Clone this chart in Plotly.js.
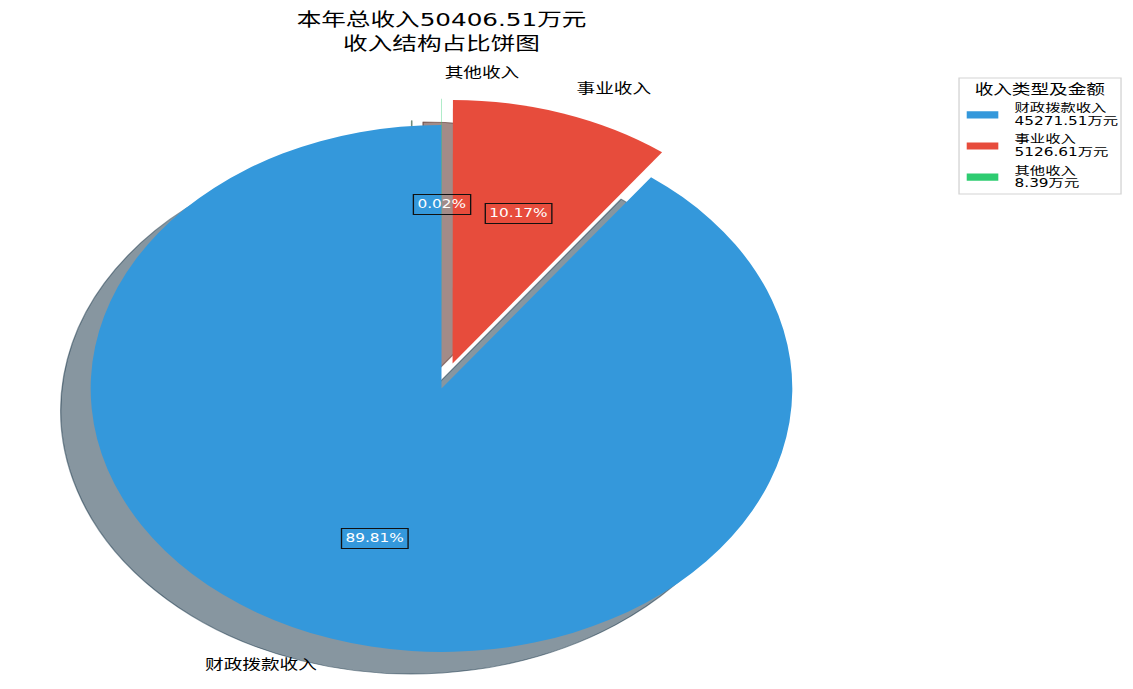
<!DOCTYPE html>
<html>
<head>
<meta charset="utf-8">
<script src="https://cdn.plot.ly/plotly-3.0.1.min.js"></script>
<style>
  html, body { margin: 0; padding: 0; overflow: hidden; background: #fff; }
  #wrap { width: 1133px; height: 689px; overflow: hidden; }
  /* the chart is laid out narrower and stretched sideways, giving the oval pie */
  #chart { width: 851px; height: 740px; transform: scaleX(1.3314); transform-origin: 0 0; }
</style>
</head>
<body>
<div id="wrap"><div id="chart"></div></div>
<script>
// income categories and amounts (万元)
const categories = ['财政拨款收入', '事业收入', '其他收入'];
const amounts = [45271.51, 5126.61, 8.39];
const explode = [0, 0.1, 0.1];
const sliceColors = ['#3498db', '#e74c3c', '#2ecc71'];
const legendTitle = '收入类型及金额';
const unit = '万元';
const titleMain = '本年总收入';
const titleSub = '收入结构占比饼图';

// ---- layout geometry (pixels of the displayed page) ----
const SX = 1.3314;          // horizontal stretch
const W0 = 851, H0 = 740;   // plotly canvas size before stretching
const FULLW = 1133;
const CX = 441.5 / SX;      // pie centre, canvas px
const CY = 388.5;
const R = 263.5;            // pie radius, canvas px
const SHADOW_DX = -22.5, SHADOW_DY = 22;
const FONT = "'DejaVu Sans', 'Noto Sans CJK SC', sans-serif";

const total = amounts.reduce((a, b) => a + b, 0);
const maxPull = Math.max(...explode);
// first slice starts at 12 o'clock and runs counterclockwise
const startRotation = 360 - amounts[0] / total * 360;

function pieDomain(cx, cy) {
  const half = R * (1 + maxPull);
  return {
    x: [(cx - half) / W0, (cx + half) / W0],
    y: [1 - (cy + half) / H0, 1 - (cy - half) / H0]
  };
}
function shadowOf(hex) {
  const n = parseInt(hex.slice(1), 16);
  const r = (n >> 16) & 255, g = (n >> 8) & 255, b = n & 255;
  return `rgba(${(0.3 * r).toFixed(1)},${(0.3 * g).toFixed(1)},${(0.3 * b).toFixed(1)},0.5)`;
}
const shadowColors = sliceColors.map(shadowOf);

const shadowPie = {
  type: 'pie', labels: categories, values: amounts, sort: false,
  direction: 'counterclockwise', rotation: startRotation, pull: explode,
  marker: { colors: shadowColors, line: { color: shadowColors, width: 1 } },
  textinfo: 'none', hoverinfo: 'skip', showlegend: false,
  domain: pieDomain(CX + SHADOW_DX, CY + SHADOW_DY)
};
const mainPie = {
  type: 'pie', labels: categories, values: amounts, sort: false,
  direction: 'counterclockwise', rotation: startRotation, pull: explode,
  marker: { colors: sliceColors, line: { width: 0 } },
  textinfo: 'none', hoverinfo: 'skip', showlegend: false,
  domain: pieDomain(CX, CY)
};

// slice label positions follow the slice mid-angles
const annotations = [];
let cum = 0;
amounts.forEach((v, i) => {
  const frac = v / total;
  const mid = (90 + (cum + frac / 2) * 360) * Math.PI / 180;
  cum += frac;
  const c = Math.cos(mid), s = Math.sin(mid);
  const pctD = 0.6 + explode[i];
  const lblD = 1.1 + explode[i];
  annotations.push({
    xref: 'paper', yref: 'paper', showarrow: false,
    x: (CX + pctD * R * c) / W0, y: 1 - (CY - pctD * R * s) / H0,
    xanchor: 'center', yanchor: 'middle',
    text: (frac * 100).toFixed(2) + '%',
    font: { family: FONT, size: 11.5, color: '#ffffff' },
    bgcolor: 'rgba(0,0,0,0)', bordercolor: '#111111', borderwidth: 1, borderpad: 2.5
  });
  annotations.push({
    xref: 'paper', yref: 'paper', showarrow: false,
    x: (CX + lblD * R * c) / W0, y: 1 - (CY - lblD * R * s) / H0,
    xanchor: c >= 0 ? 'left' : 'right', yanchor: 'middle',
    text: categories[i],
    font: { family: FONT, size: 14, color: '#000000' }
  });
});

// legend box drawn by hand
const fx = px => px / FULLW;       // displayed x -> paper
const fy = py => 1 - py / H0;      // displayed y -> paper
const shapes = [{
  type: 'rect', xref: 'paper', yref: 'paper',
  x0: fx(959), x1: fx(1121), y0: fy(194), y1: fy(78),
  line: { color: '#d4d4d4', width: 1 }, fillcolor: '#ffffff', layer: 'below'
}];
annotations.push({
  xref: 'paper', yref: 'paper', showarrow: false,
  x: fx(1040), y: fy(88.5), xanchor: 'center', yanchor: 'middle',
  text: legendTitle, font: { family: FONT, size: 14, color: '#000000' }
});
categories.forEach((name, i) => {
  const rowTop = 108.3 + i * 31.1;
  const symY = rowTop + 6.6;
  shapes.push({
    type: 'rect', xref: 'paper', yref: 'paper',
    x0: fx(966.7), x1: fx(998.3), y0: fy(symY + 3.6), y1: fy(symY - 3.6),
    line: { width: 0 }, fillcolor: sliceColors[i]
  });
  annotations.push({
    xref: 'paper', yref: 'paper', showarrow: false,
    x: fx(1011.7), y: fy(rowTop), xanchor: 'left', yanchor: 'middle',
    text: name, font: { family: FONT, size: 11.5, color: '#000000' }
  });
  annotations.push({
    xref: 'paper', yref: 'paper', showarrow: false,
    x: fx(1011.7), y: fy(rowTop + 12.8), xanchor: 'left', yanchor: 'middle',
    text: amounts[i].toFixed(2) + unit, font: { family: FONT, size: 11.5, color: '#000000' }
  });
});

const layout = {
  width: W0, height: H0,
  margin: { l: 0, r: 0, t: 0, b: 0 },
  paper_bgcolor: '#ffffff', plot_bgcolor: '#ffffff',
  title: {
    text: titleMain + total.toFixed(2) + unit + '<br>' + titleSub,
    x: 441.5 / FULLW, xanchor: 'center', xref: 'paper',
    y: 1 - 26 / H0, yanchor: 'top', yref: 'container',
    font: { family: FONT, size: 18.5, color: '#000000' }
  },
  showlegend: false,
  annotations: annotations,
  shapes: shapes
};

Plotly.newPlot('chart', [shadowPie, mainPie], layout, { displayModeBar: false, staticPlot: true });
</script>
</body>
</html>
